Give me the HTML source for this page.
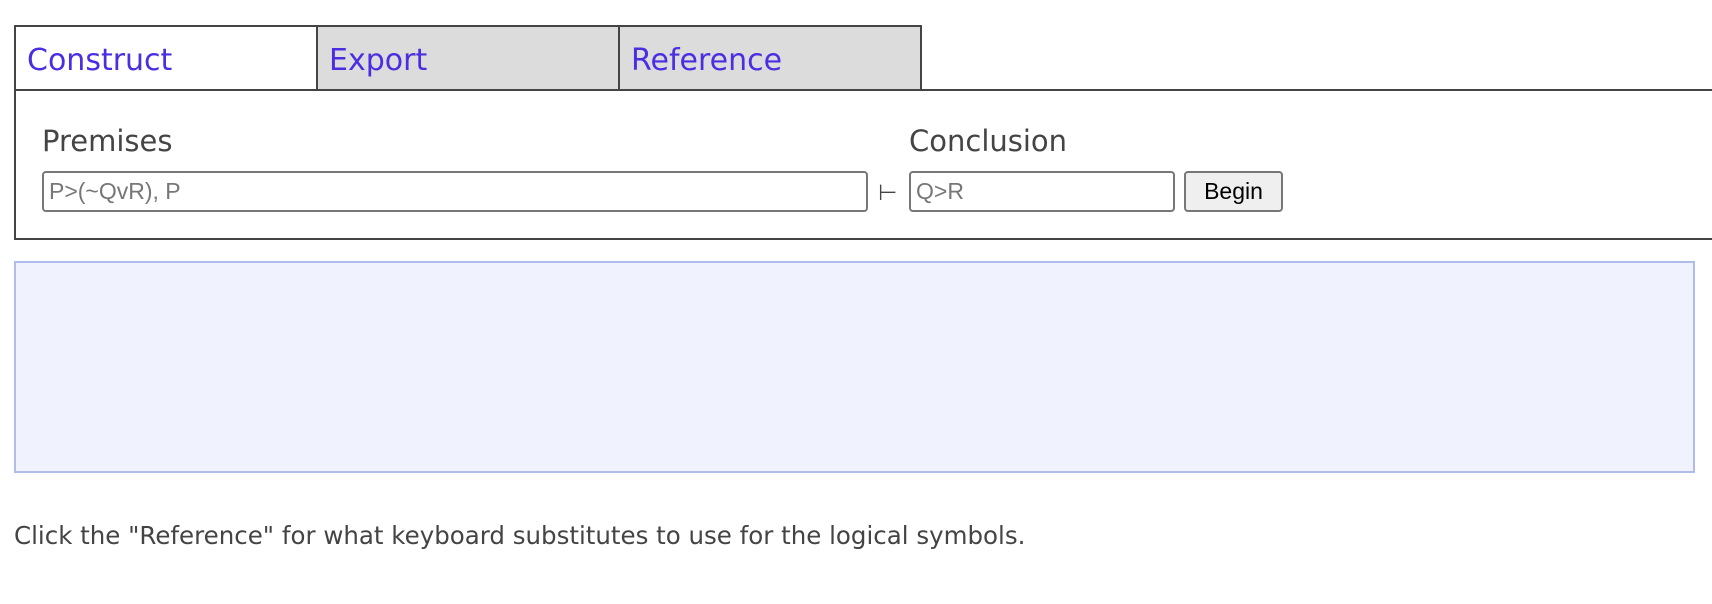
<!DOCTYPE html>
<html><head><style>
body{margin:0;width:1712px;height:604px;background:#fff;position:relative;overflow:hidden;font-family:"DejaVu Sans","Liberation Sans",sans-serif;}
.abs{position:absolute;box-sizing:border-box;}
.tab{top:25px;height:66px;border:2px solid #444;border-bottom:none;}
.tl{position:absolute;left:11px;top:16px;font-size:30px;color:#4a2ee2;line-height:36px;}
.inp{border:2px solid #777;border-radius:4px;background:#fff;font-family:"Liberation Sans",sans-serif;font-size:23px;color:#777;padding-left:5px;line-height:37px;}
</style></head><body>
<div class="abs tab" style="left:14px;width:304px;background:#fff;"><span class="tl">Construct</span></div>
<div class="abs tab" style="left:316px;width:304px;background:#dcdcdc;"><span class="tl">Export</span></div>
<div class="abs tab" style="left:618px;width:304px;background:#dcdcdc;"><span class="tl">Reference</span></div>
<div class="abs" style="left:14px;top:89px;width:1710px;height:151px;border:2px solid #444;border-right:none;background:#fff;"></div>
<div class="abs" style="left:42px;top:123px;font-size:29px;color:#444;line-height:36px;">Premises</div>
<div class="abs" style="left:909px;top:123px;font-size:29px;color:#444;line-height:36px;">Conclusion</div>
<div class="abs inp" style="left:42px;top:171px;width:826px;height:41px;">P&gt;(~QvR), P</div>
<div class="abs" style="left:878px;top:178px;font-size:22px;color:#444;line-height:32px;">⊢</div>
<div class="abs inp" style="left:909px;top:171px;width:266px;height:41px;">Q&gt;R</div>
<div class="abs" style="left:1184px;top:171px;width:99px;height:41px;border:2px solid #777;border-radius:4px;background:#efefef;font-family:'Liberation Sans',sans-serif;font-size:23px;color:#000;text-align:center;line-height:37px;">Begin</div>
<div class="abs" style="left:14px;top:261px;width:1681px;height:212px;border:2px solid #b0bcec;background:#f0f3fe;"></div>
<div class="abs" style="left:14px;top:521px;font-size:24.5px;color:#444;line-height:30px;white-space:nowrap;">Click the "Reference" for what keyboard substitutes to use for the logical symbols.</div>
</body></html>
